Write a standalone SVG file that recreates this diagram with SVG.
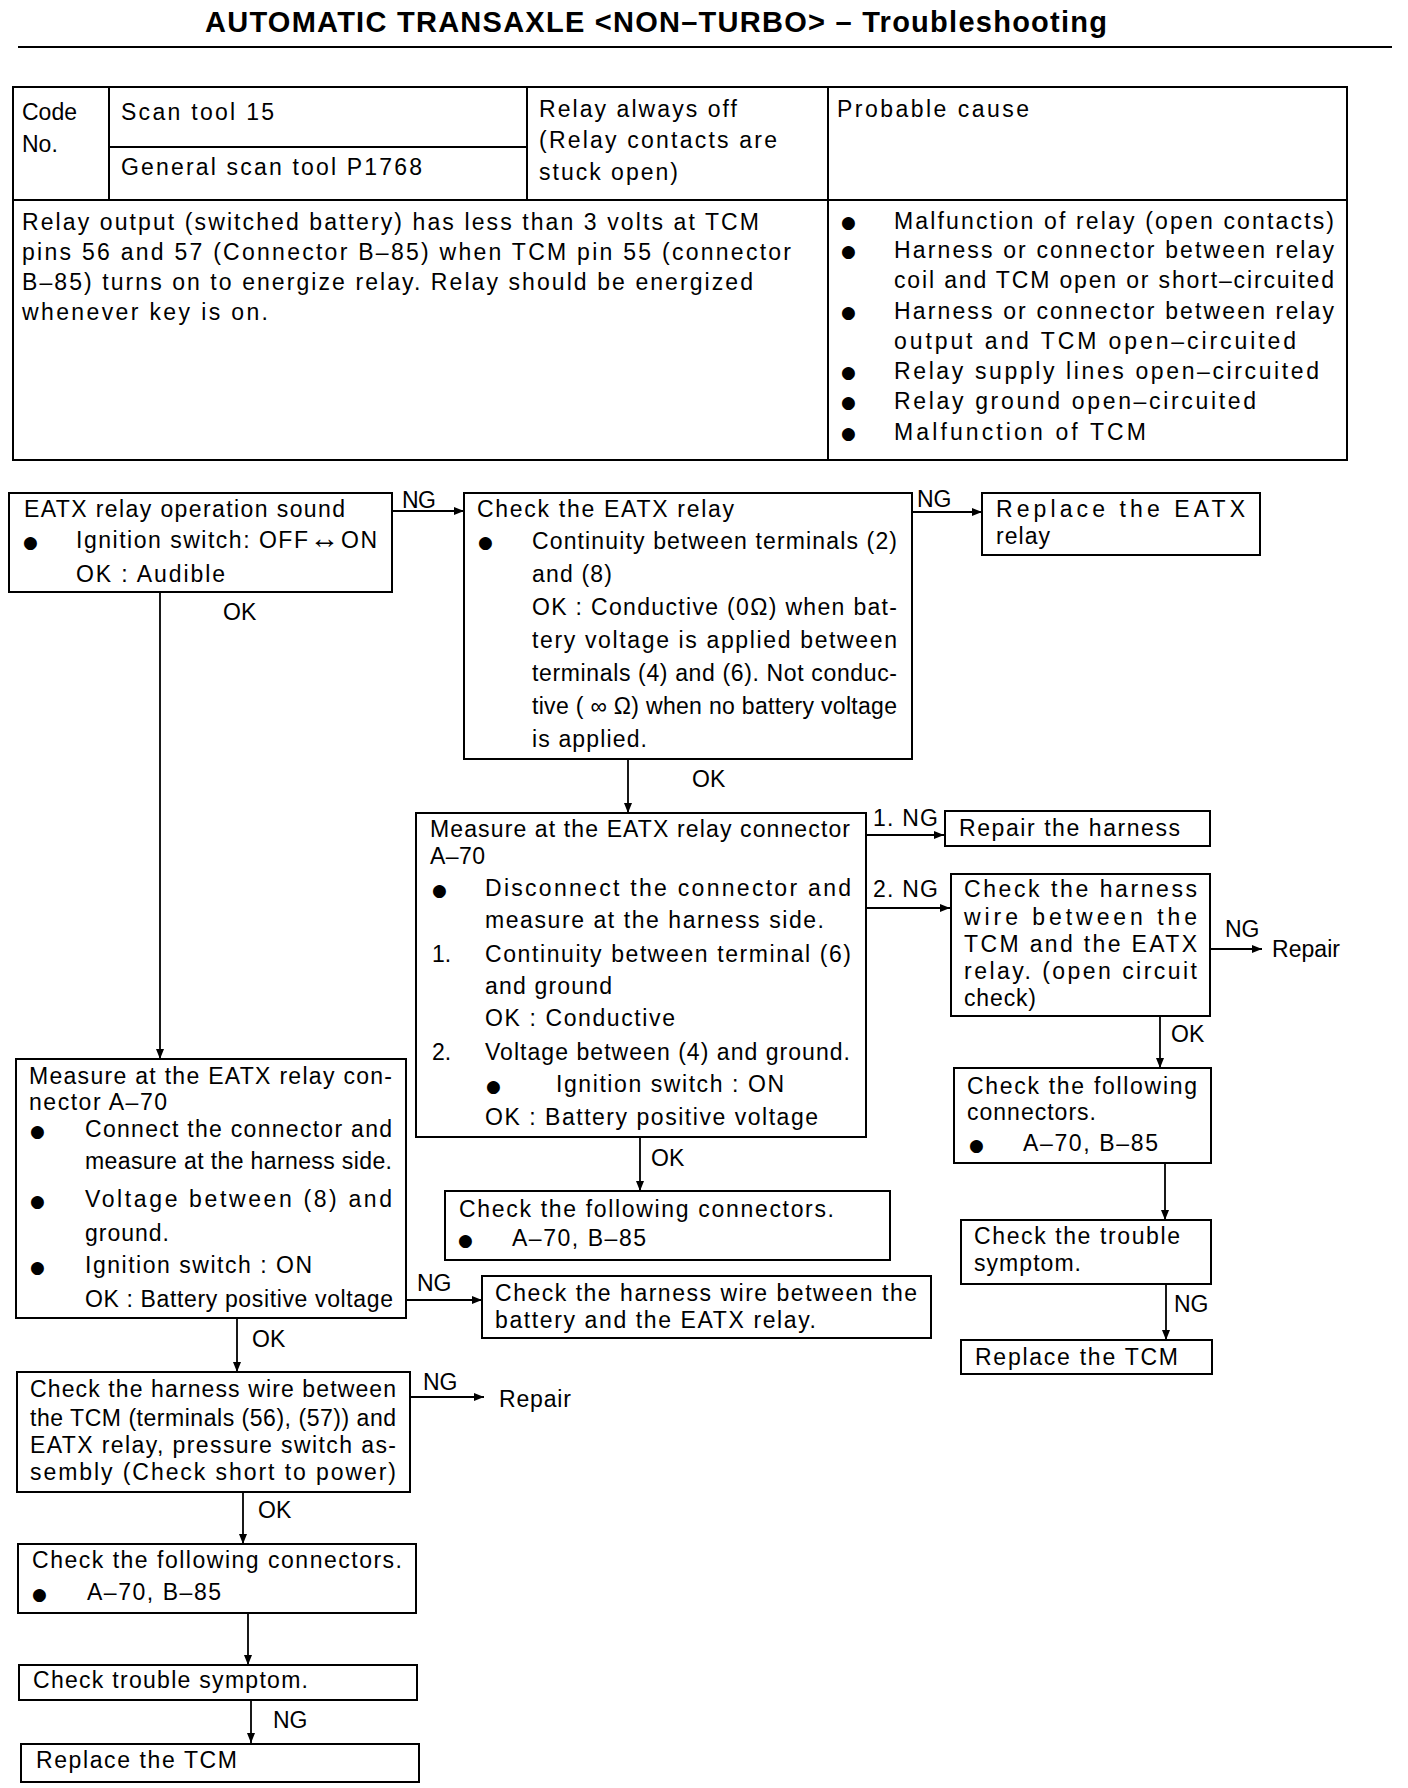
<svg xmlns="http://www.w3.org/2000/svg" width="1408" height="1788" viewBox="0 0 1408 1788">
<style>
text{font-family:"Liberation Sans",Arial,sans-serif;font-size:23px;fill:#000}
.ttl{font-weight:bold;font-size:29px}
.bul{font-family:"DejaVu Sans",sans-serif;font-size:17px}
.box{fill:#fff;stroke:#000;stroke-width:2}
.ln{stroke:#000;stroke-width:2;fill:none}
.cn{stroke:#000;stroke-width:1.8;fill:none;marker-end:url(#ah)}
</style>
<defs>
<marker id="ah" viewBox="0 0 10 8" refX="10" refY="4" markerWidth="10" markerHeight="8" markerUnits="userSpaceOnUse" orient="auto">
<path d="M0,0 L10,4 L0,8 z" fill="#000"/>
</marker>
</defs>
<rect width="1408" height="1788" fill="#fff"/>

<g id="header">
<text class="ttl" x="205" y="32" textLength="902">AUTOMATIC TRANSAXLE &lt;NON–TURBO&gt; – Troubleshooting</text>
<line class="ln" x1="18" y1="47" x2="1392" y2="47" stroke-width="2.5"/>
</g>

<g id="table">
<rect class="box" x="13" y="87" width="1334" height="373"/>
<line class="ln" x1="109" y1="87" x2="109" y2="200"/>
<line class="ln" x1="527" y1="87" x2="527" y2="200"/>
<line class="ln" x1="828" y1="87" x2="828" y2="460"/>
<line class="ln" x1="13" y1="200" x2="1347" y2="200"/>
<line class="ln" x1="109" y1="147" x2="527" y2="147"/>
<text x="22" y="120">Code</text>
<text x="22" y="152">No.</text>
<text x="121" y="120" textLength="153">Scan tool 15</text>
<text x="121" y="175" textLength="301">General scan tool P1768</text>
<text x="539" y="117" textLength="198">Relay always off</text>
<text x="539" y="148" textLength="238">(Relay contacts are</text>
<text x="539" y="180" textLength="139">stuck open)</text>
<text x="837" y="117" textLength="192">Probable cause</text>
<text x="22" y="230" textLength="737">Relay output (switched battery) has less than 3 volts at TCM</text>
<text x="22" y="260" textLength="769">pins 56 and 57 (Connector B–85) when TCM pin 55 (connector</text>
<text x="22" y="290" textLength="731">B–85) turns on to energize relay. Relay should be energized</text>
<text x="22" y="320" textLength="246">whenever key is on.</text>
<text class="bul" x="841" y="228">●</text>
<text x="894" y="229" textLength="440">Malfunction of relay (open contacts)</text>
<text class="bul" x="841" y="257">●</text>
<text x="894" y="258" textLength="440">Harness or connector between relay</text>
<text x="894" y="288" textLength="440">coil and TCM open or short–circuited</text>
<text class="bul" x="841" y="318">●</text>
<text x="894" y="319" textLength="440">Harness or connector between relay</text>
<text x="894" y="349" textLength="402">output  and  TCM  open–circuited</text>
<text class="bul" x="841" y="378">●</text>
<text x="894" y="379" textLength="425">Relay supply lines open–circuited</text>
<text class="bul" x="841" y="408">●</text>
<text x="894" y="409" textLength="362">Relay ground open–circuited</text>
<text class="bul" x="841" y="439">●</text>
<text x="894" y="440" textLength="252">Malfunction of TCM</text>
</g>

<g id="connectors">
<path class="cn" d="M160,593 V1059"/>
<path class="cn" d="M392,511 H464"/>
<path class="cn" d="M912,512 H982"/>
<path class="cn" d="M628,759 V813"/>
<path class="cn" d="M866,835 H944"/>
<path class="cn" d="M866,908 H950"/>
<path class="cn" d="M1210,949 H1262"/>
<path class="cn" d="M1160,1016 V1068"/>
<path class="cn" d="M1165,1163 V1220"/>
<path class="cn" d="M1166,1284 V1340"/>
<path class="cn" d="M640,1137 V1191"/>
<path class="cn" d="M406,1300 H482"/>
<path class="cn" d="M237,1318 V1372"/>
<path class="cn" d="M410,1397 H484"/>
<path class="cn" d="M243,1492 V1544"/>
<path class="cn" d="M248,1613 V1665"/>
<path class="cn" d="M251,1700 V1743"/>
</g>

<g id="labels">
<text x="223" y="620">OK</text>
<text x="402" y="508" textLength="34">NG</text>
<text x="917" y="507">NG</text>
<text x="692" y="787">OK</text>
<text x="873" y="826" textLength="65">1. NG</text>
<text x="873" y="897" textLength="65">2. NG</text>
<text x="1225" y="937">NG</text>
<text x="1272" y="957" textLength="68">Repair</text>
<text x="1171" y="1042">OK</text>
<text x="1174" y="1312">NG</text>
<text x="651" y="1166">OK</text>
<text x="417" y="1291">NG</text>
<text x="252" y="1347">OK</text>
<text x="423" y="1390">NG</text>
<text x="499" y="1407" textLength="72">Repair</text>
<text x="258" y="1518">OK</text>
<text x="273" y="1728">NG</text>
</g>

<g id="nodeA">
<rect class="box" x="9" y="493" width="383" height="99"/>
<text x="24" y="517" textLength="321">EATX relay operation sound</text>
<text class="bul" x="23" y="548">●</text>
<text x="76" y="548" textLength="301">Ignition switch: OFF<tspan font-size="30">↔</tspan>ON</text>
<text x="76" y="582" textLength="149">OK : Audible</text>
</g>

<g id="nodeB">
<rect class="box" x="464" y="493" width="448" height="266"/>
<text x="477" y="517" textLength="257">Check the EATX relay</text>
<text class="bul" x="478" y="548">●</text>
<text x="532" y="549" textLength="365">Continuity between terminals (2)</text>
<text x="532" y="582" textLength="80">and (8)</text>
<text x="532" y="615" textLength="365">OK : Conductive (0Ω) when bat-</text>
<text x="532" y="648" textLength="365">tery voltage is applied between</text>
<text x="532" y="681" textLength="365">terminals (4) and (6). Not conduc-</text>
<text x="532" y="714" textLength="365">tive ( ∞ Ω) when no battery voltage</text>
<text x="532" y="747" textLength="115">is applied.</text>
</g>

<g id="nodeReplaceRelay">
<rect class="box" x="982" y="493" width="278" height="62"/>
<text x="996" y="517" textLength="249">Replace   the   EATX</text>
<text x="996" y="544" textLength="54">relay</text>
</g>

<g id="nodeC">
<rect class="box" x="416" y="813" width="450" height="324"/>
<text x="430" y="837" textLength="420">Measure at the EATX relay connector</text>
<text x="430" y="864" textLength="55">A–70</text>
<text class="bul" x="432" y="896">●</text>
<text x="485" y="896" textLength="366">Disconnect the connector and</text>
<text x="485" y="928" textLength="339">measure at the harness side.</text>
<text x="432" y="962">1.</text>
<text x="485" y="962" textLength="366">Continuity between terminal (6)</text>
<text x="485" y="994" textLength="127">and ground</text>
<text x="485" y="1026" textLength="190">OK : Conductive</text>
<text x="432" y="1060">2.</text>
<text x="485" y="1060" textLength="365">Voltage between (4) and ground.</text>
<text class="bul" x="486" y="1092">●</text>
<text x="556" y="1092" textLength="228">Ignition switch : ON</text>
<text x="485" y="1125" textLength="333">OK : Battery positive voltage</text>
</g>

<g id="nodeRepairHarness">
<rect class="box" x="945" y="811" width="265" height="35"/>
<text x="959" y="836" textLength="221">Repair the harness</text>
</g>

<g id="nodeHarnessTCM">
<rect class="box" x="951" y="874" width="259" height="142"/>
<text x="964" y="897" textLength="233">Check the harness</text>
<text x="964" y="925" textLength="233">wire between the</text>
<text x="964" y="952" textLength="233">TCM and the EATX</text>
<text x="964" y="979" textLength="233">relay. (open circuit</text>
<text x="964" y="1006" textLength="72">check)</text>
</g>

<g id="nodeFollowingRight">
<rect class="box" x="954" y="1068" width="257" height="95"/>
<text x="967" y="1094" textLength="230">Check the following</text>
<text x="967" y="1120" textLength="129">connectors.</text>
<text class="bul" x="969" y="1151">●</text>
<text x="1023" y="1151" textLength="135">A–70, B–85</text>
</g>

<g id="nodeTroubleRight">
<rect class="box" x="961" y="1220" width="250" height="64"/>
<text x="974" y="1244" textLength="206">Check the trouble</text>
<text x="974" y="1271" textLength="107">symptom.</text>
</g>

<g id="nodeReplaceTCMRight">
<rect class="box" x="961" y="1340" width="251" height="34"/>
<text x="975" y="1365" textLength="203">Replace the TCM</text>
</g>

<g id="nodeFollowingCenter">
<rect class="box" x="445" y="1191" width="445" height="69"/>
<text x="459" y="1217" textLength="375">Check the following  connectors.</text>
<text class="bul" x="458" y="1246">●</text>
<text x="512" y="1246" textLength="134">A–70, B–85</text>
</g>

<g id="nodeD">
<rect class="box" x="16" y="1059" width="390" height="259"/>
<text x="29" y="1084" textLength="363">Measure at the EATX relay con-</text>
<text x="29" y="1110" textLength="138">nector A–70</text>
<text class="bul" x="30" y="1137">●</text>
<text x="85" y="1137" textLength="307">Connect the connector and</text>
<text x="85" y="1169" textLength="307">measure at the harness side.</text>
<text class="bul" x="30" y="1207">●</text>
<text x="85" y="1207" textLength="307">Voltage between (8) and</text>
<text x="85" y="1241" textLength="84">ground.</text>
<text class="bul" x="30" y="1273">●</text>
<text x="85" y="1273" textLength="227">Ignition switch : ON</text>
<text x="85" y="1307" textLength="308">OK : Battery positive voltage</text>
</g>

<g id="nodeBattery">
<rect class="box" x="482" y="1276" width="449" height="62"/>
<text x="495" y="1301" textLength="422">Check the harness wire between the</text>
<text x="495" y="1328" textLength="321">battery and the EATX relay.</text>
</g>

<g id="nodeE">
<rect class="box" x="17" y="1372" width="393" height="120"/>
<text x="30" y="1397" textLength="366">Check the harness wire between</text>
<text x="30" y="1426" textLength="366">the TCM (terminals (56), (57)) and</text>
<text x="30" y="1453" textLength="366">EATX relay, pressure switch as-</text>
<text x="30" y="1480" textLength="366">sembly (Check short to power)</text>
</g>

<g id="nodeF">
<rect class="box" x="18" y="1544" width="398" height="69"/>
<text x="32" y="1568" textLength="370">Check the following  connectors.</text>
<text class="bul" x="32" y="1600">●</text>
<text x="87" y="1600" textLength="134">A–70, B–85</text>
</g>

<g id="nodeG">
<rect class="box" x="19" y="1665" width="398" height="35"/>
<text x="33" y="1688" textLength="275">Check trouble symptom.</text>
</g>

<g id="nodeH">
<rect class="box" x="21" y="1744" width="398" height="38"/>
<text x="36" y="1768" textLength="201">Replace the TCM</text>
</g>
</svg>
